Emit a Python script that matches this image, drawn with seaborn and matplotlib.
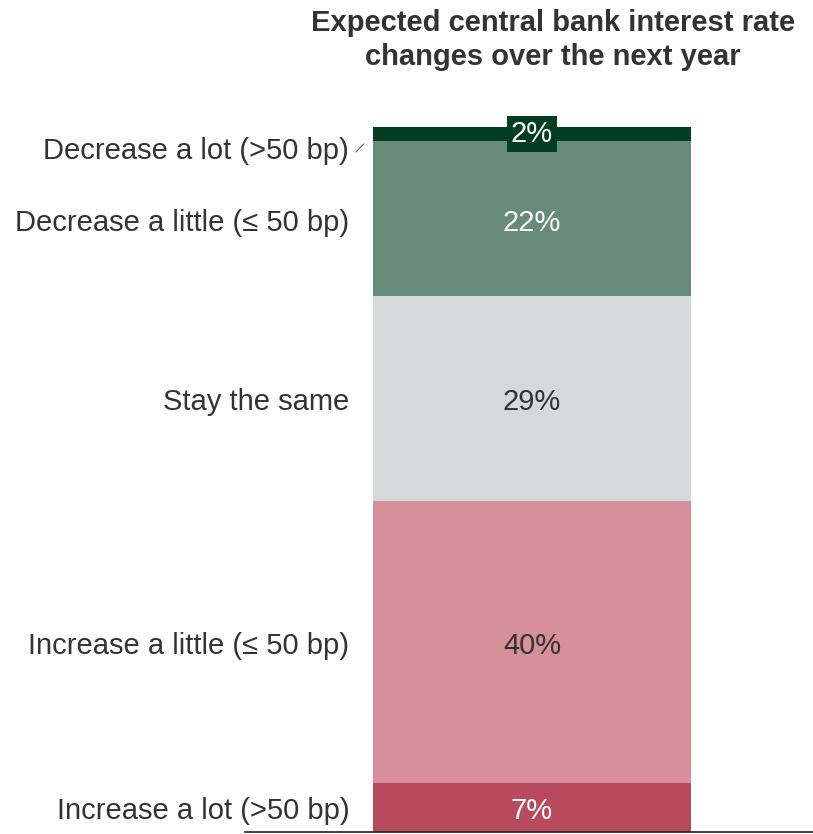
import matplotlib
matplotlib.use("Agg")
import matplotlib.pyplot as plt
import matplotlib.transforms as mtransforms
import seaborn as sns
import pandas as pd

# Data (bottom to top in the stack)
categories = ["Increase a lot (>50 bp)", "Increase a little (≤ 50 bp)", "Stay the same",
              "Decrease a little (≤ 50 bp)", "Decrease a lot (>50 bp)"]
values = [7, 40, 29, 22, 2]
pct_labels = ["7%", "40%", "29%", "22%", "2%"]
colors = ["#b94a5e", "#d6909a", "#d7d8da", "#678a7a", "#003d22"]
text_colors = ["white", "#333333", "#333333", "white", "white"]
title = "Expected central bank interest rate\nchanges over the next year"

sns.set_theme(style="white")
plt.rcParams["font.family"] = ["Liberation Sans", "DejaVu Sans"]

W, H = 813, 834
fig = plt.figure(figsize=(W / 100, H / 100), dpi=100)
ax = fig.add_axes([245 / W, (H - 832) / H, 568 / W, (832 - 127) / H])
down = mtransforms.offset_copy(ax.transData, fig=fig, x=0, y=-4, units="dots")

FS = 21
LX = -0.46
bottom = 0
for i, (c, v) in enumerate(zip(categories, values)):
    sub = pd.DataFrame({"g": ["all"], "val": [v]})
    sns.barplot(data=sub, x="g", y="val", color=colors[i], bottom=bottom,
                width=0.8, ax=ax, saturation=1, linewidth=0, edgecolor="none")
    mid = bottom + v / 2
    if i == 4:
        ax.text(0, mid, pct_labels[i], ha="center", va="center", fontsize=FS,
                color=text_colors[i],
                bbox=dict(boxstyle="square,pad=0.15", facecolor=colors[i], edgecolor="none"))
        ax.text(LX, mid - 1.85, c, ha="right", va="center", fontsize=FS, color="#333333",
                transform=down)
        ax.annotate("", xy=(-0.423, 97.6), xytext=(-0.443, 96.45),
                    arrowprops=dict(arrowstyle="-", color="#666666", lw=0.8,
                                    shrinkA=0, shrinkB=0))
    else:
        ax.text(0, mid, pct_labels[i], ha="center", va="center", fontsize=FS,
                color=text_colors[i], transform=down)
        ax.text(LX, mid, c, ha="right", va="center", fontsize=FS, color="#333333",
                transform=down)
    bottom += v

ax.set_xlim(-0.722, 0.707)
ax.set_ylim(0, 100)
ax.set_xlabel("")
ax.set_ylabel("")
ax.set_xticks([])
ax.set_yticks([])
for s in ["top", "right", "left"]:
    ax.spines[s].set_visible(False)
ax.spines["bottom"].set_color("#222222")
ax.spines["bottom"].set_linewidth(1.2)
for p in ax.patches:
    p.set_clip_on(False)

fig.text(553 / W, 1 - 40 / H, title, ha="center", va="center", fontsize=21,
         fontweight="bold", color="#333333", linespacing=1.3)

fig.savefig("out.png", dpi=100)
